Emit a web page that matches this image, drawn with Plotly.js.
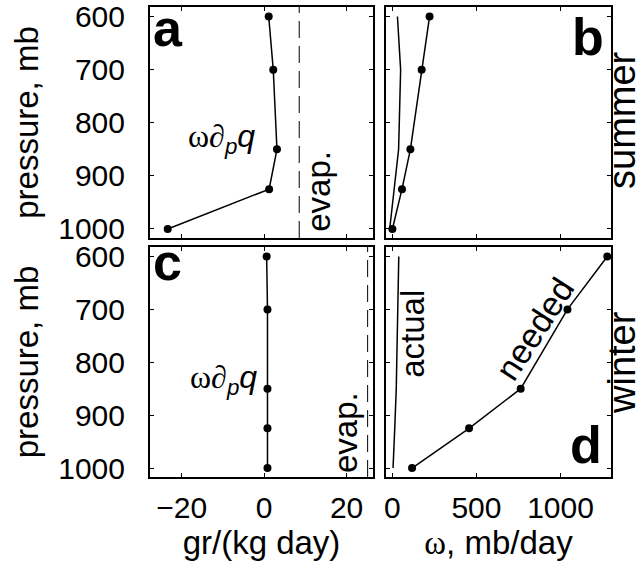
<!DOCTYPE html>
<html>
<head>
<meta charset="utf-8">
<script src="https://cdn.plot.ly/plotly-3.0.1.min.js"></script>
<style>html,body{margin:0;padding:0;background:#fff;}</style>
</head>
<body>
<div id="chart" style="width:644px;height:576px;"></div>
<script>
// ---- data ----
const pressure = [600, 700, 850, 925, 1000];            // mb
const summerOmegaDq = [1.1, 2.2, 3.1, 1.2, -23.4];      // gr/(kg day), panel a
const winterOmegaDq = [0.6, 0.8, 0.8, 0.8, 0.8];        // gr/(kg day), panel c
const summerEvap = 8.5;                                  // gr/(kg day)
const winterEvap = 25.1;                                 // gr/(kg day)
const summerNeeded = [221, 174, 107, 57, 0];             // mb/day, panel b
const summerActual = [30, 49, 37, 12, -16];              // mb/day, panel b
const winterNeeded = [1278, 1041, 763, 456, 117];        // mb/day, panel d
const winterActual = [38, 32, 23, 14, 4];                // mb/day, panel d
const pressureTicks = [600, 700, 800, 900, 1000];
const leftTicks = [-20, 0, 20];
const rightTicks = [0, 500, 1000];

const W = 644, H = 576;
const px = v => v / W;
const py = v => 1 - v / H;

const FONT = 'Liberation Sans, Arial, Helvetica, sans-serif';
const lineStyle = {color: 'black', width: 1.5};
const mk = {color: 'black', size: 8};

const traces = [
  {x: summerOmegaDq, y: pressure, xaxis: 'x', yaxis: 'y', mode: 'lines+markers', line: lineStyle, marker: mk},
  {x: summerActual, y: pressure, xaxis: 'x2', yaxis: 'y2', mode: 'lines', line: lineStyle},
  {x: summerNeeded, y: pressure, xaxis: 'x2', yaxis: 'y2', mode: 'lines+markers', line: lineStyle, marker: mk},
  {x: winterOmegaDq, y: pressure, xaxis: 'x3', yaxis: 'y3', mode: 'lines+markers', line: lineStyle, marker: mk},
  {x: winterActual, y: pressure, xaxis: 'x4', yaxis: 'y4', mode: 'lines', line: lineStyle},
  {x: winterNeeded, y: pressure, xaxis: 'x4', yaxis: 'y4', mode: 'lines+markers', line: lineStyle, marker: mk}
];

const leftDom = [px(150), px(373)];
const rightDom = [px(386), px(611)];
const topDom = [py(238), py(7)];
const botDom = [py(477), py(247)];
const yRange = [1017, 582];
const leftRange = [-27.7, 26.4];
const rightRange = [-38, 1300];

function ax(extra) {
  return Object.assign({
    showline: true, linecolor: 'black', linewidth: 2, mirror: 'ticks',
    ticks: 'inside', ticklen: 4, tickwidth: 1, tickcolor: 'black',
    showgrid: false, zeroline: false, fixedrange: true,
    tickfont: {family: FONT, size: 30, color: 'black'}
  }, extra);
}

const titleFont = {family: FONT, size: 33, color: 'black'};

const layout = {
  width: W, height: H,
  margin: {l: 0, r: 0, t: 0, b: 0},
  paper_bgcolor: 'white', plot_bgcolor: 'white',
  showlegend: false,
  font: {family: FONT, color: 'black'},
  xaxis: ax({domain: leftDom, range: leftRange, anchor: 'y', tickvals: leftTicks, showticklabels: false}),
  yaxis: ax({domain: topDom, range: yRange, anchor: 'x', tickvals: pressureTicks, ticklabelstandoff: 17,
             title: {text: 'pressure, mb', font: titleFont, standoff: 10}}),
  xaxis2: ax({domain: rightDom, range: rightRange, anchor: 'y2', tickvals: rightTicks, showticklabels: false}),
  yaxis2: ax({domain: topDom, range: yRange, anchor: 'x2', tickvals: pressureTicks, showticklabels: false}),
  xaxis3: ax({domain: leftDom, range: leftRange, anchor: 'y3', tickvals: leftTicks, ticklabelstandoff: 3,
              title: {text: 'gr/(kg day)', font: titleFont, standoff: 6}}),
  yaxis3: ax({domain: botDom, range: yRange, anchor: 'x3', tickvals: pressureTicks, ticklabelstandoff: 17,
              title: {text: 'pressure, mb', font: titleFont, standoff: 10}}),
  xaxis4: ax({domain: rightDom, range: rightRange, anchor: 'y4', tickvals: rightTicks, ticklabelstandoff: 3,
              title: {text: '<span style="font-family:Liberation Serif">ω</span>, mb/day', font: titleFont, standoff: 6}}),
  yaxis4: ax({domain: botDom, range: yRange, anchor: 'x4', tickvals: pressureTicks, showticklabels: false}),
  shapes: [
    {type: 'line', xref: 'x', yref: 'y domain', x0: summerEvap, x1: summerEvap, y0: 0, y1: 1,
     line: {color: 'black', width: 1, dash: '17px,8px'}},
    {type: 'line', xref: 'x3', yref: 'y3 domain', x0: winterEvap, x1: winterEvap, y0: 0, y1: 1,
     line: {color: 'black', width: 1, dash: '17px,8px'}}
  ],
  annotations: []
};

const A = layout.annotations;
const letterFont = {family: FONT, size: 52, color: 'black', weight: 'bold'};
A.push({xref: 'paper', yref: 'paper', x: px(152), y: py(58), xanchor: 'left', yanchor: 'bottom', text: '<b>a</b>', showarrow: false, font: letterFont, borderpad: 0});
A.push({xref: 'paper', yref: 'paper', x: px(605), y: py(67), xanchor: 'right', yanchor: 'bottom', text: '<b>b</b>', showarrow: false, font: letterFont, borderpad: 0});
A.push({xref: 'paper', yref: 'paper', x: px(152), y: py(292), xanchor: 'left', yanchor: 'bottom', text: '<b>c</b>', showarrow: false, font: letterFont, borderpad: 0});
A.push({xref: 'paper', yref: 'paper', x: px(603), y: py(475), xanchor: 'right', yanchor: 'bottom', text: '<b>d</b>', showarrow: false, font: letterFont, borderpad: 0});

const sideFont = {family: FONT, size: 38, color: 'black'};
A.push({xref: 'paper', yref: 'paper', x: px(622), y: py(120), xanchor: 'center', yanchor: 'middle', text: 'summer', textangle: -90, showarrow: false, font: sideFont});
A.push({xref: 'paper', yref: 'paper', x: px(622), y: py(363), xanchor: 'center', yanchor: 'middle', text: 'winter', textangle: -90, showarrow: false, font: sideFont});

const labFont = {family: FONT, size: 33, color: 'black'};
const mathFont = {family: FONT, size: 32, color: 'black'};
const wdpq = '<span style="font-family:Liberation Serif">ω∂</span><sub><i>p</i></sub><i>q</i>';
A.push({xref: 'x', yref: 'y', x: -1.8, y: 830, xanchor: 'right', yanchor: 'middle', text: wdpq, showarrow: false, font: mathFont});
A.push({xref: 'x3', yref: 'y3', x: -1.3, y: 832, xanchor: 'right', yanchor: 'middle', text: wdpq, showarrow: false, font: mathFont});
A.push({xref: 'x', yref: 'y', x: 13.3, y: 930, xanchor: 'center', yanchor: 'middle', text: 'evap.', textangle: -90, showarrow: false, font: labFont});
A.push({xref: 'x3', yref: 'y3', x: 19.6, y: 932, xanchor: 'center', yanchor: 'middle', text: 'evap.', textangle: -90, showarrow: false, font: labFont});
A.push({xref: 'x4', yref: 'y4', x: 120, y: 747, xanchor: 'center', yanchor: 'middle', text: 'actual', textangle: -90, showarrow: false, font: labFont});
A.push({xref: 'x4', yref: 'y4', x: 845, y: 737, xanchor: 'center', yanchor: 'middle', text: 'needed', textangle: -57, showarrow: false, font: {family: FONT, size: 34, color: 'black'}});

Plotly.newPlot('chart', traces, layout, {staticPlot: true, displayModeBar: false});
</script>
</body>
</html>
